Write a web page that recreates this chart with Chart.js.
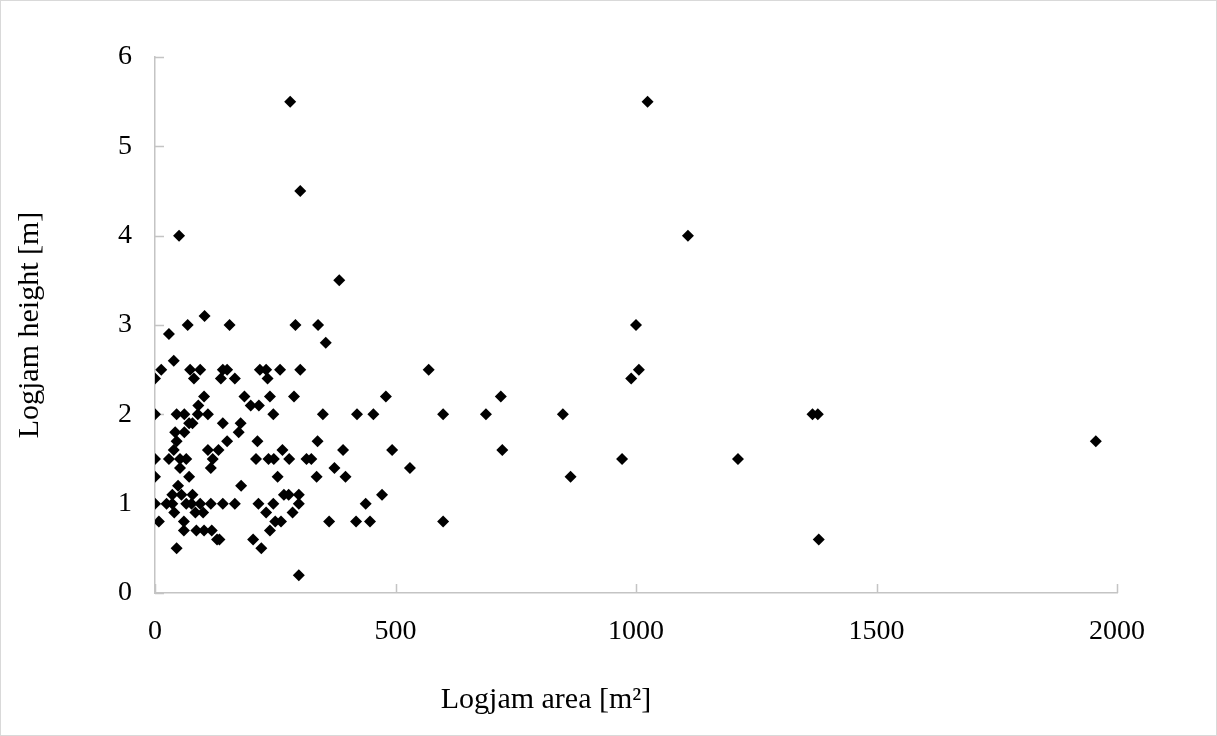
<!DOCTYPE html>
<html>
<head>
<meta charset="utf-8">
<title>Logjam height vs area</title>
<script src="https://cdn.jsdelivr.net/npm/chart.js@4.4.1/dist/chart.umd.min.js"></script>
<style>
  html, body { margin: 0; padding: 0; background: #fff; }
  #wrap { width: 1217px; height: 736px; }
</style>
</head>
<body>
<div id="wrap"><canvas id="logjamChart" width="1217" height="736"></canvas></div>
<script>
// --- 1) Data (area in m2, height in m) ---
const logjamArea = [
  281, 1024, 302, 50, 1108, 383, 103, 29, 68, 155,
  292, 339, 1000, 355, 39, 0, 13, 73, 94, 81,
  141, 150, 137, 166, 218, 231, 234, 260, 302, 569,
  990, 1006, 102, 186, 239, 289, 480, 719, 90, 199,
  216, 0, 45, 61, 89, 110, 246, 349, 420, 454,
  599, 688, 848, 1367, 1378, 71, 78, 141, 178, 42,
  61, 174, 213, 338, 150, 45, 1956, 39, 110, 132,
  265, 391, 493, 722, 0, 29, 52, 65, 120, 210,
  236, 247, 279, 315, 325, 971, 1212, 52, 116, 373,
  530, 0, 71, 255, 336, 396, 864, 48, 179, 36,
  55, 78, 268, 278, 299, 472, 0, 24, 36, 65,
  76, 94, 116, 141, 166, 215, 246, 299, 438, 40,
  84, 100, 231, 286, 8, 60, 250, 262, 362, 418,
  447, 599, 60, 86, 102, 118, 239, 129, 134, 204,
  1380, 45, 221, 299
];
const logjamHeight = [
  5.5, 5.5, 4.5, 4.0, 4.0, 3.5, 3.1, 2.9, 3.0, 3.0,
  3.0, 3.0, 3.0, 2.8, 2.6, 2.4, 2.5, 2.5, 2.5, 2.4,
  2.5, 2.5, 2.4, 2.4, 2.5, 2.5, 2.4, 2.5, 2.5, 2.5,
  2.4, 2.5, 2.2, 2.2, 2.2, 2.2, 2.2, 2.2, 2.1, 2.1,
  2.1, 2.0, 2.0, 2.0, 2.0, 2.0, 2.0, 2.0, 2.0, 2.0,
  2.0, 2.0, 2.0, 2.0, 2.0, 1.9, 1.9, 1.9, 1.9, 1.8,
  1.8, 1.8, 1.7, 1.7, 1.7, 1.7, 1.7, 1.6, 1.6, 1.6,
  1.6, 1.6, 1.6, 1.6, 1.5, 1.5, 1.5, 1.5, 1.5, 1.5,
  1.5, 1.5, 1.5, 1.5, 1.5, 1.5, 1.5, 1.4, 1.4, 1.4,
  1.4, 1.3, 1.3, 1.3, 1.3, 1.3, 1.3, 1.2, 1.2, 1.1,
  1.1, 1.1, 1.1, 1.1, 1.1, 1.1, 1.0, 1.0, 1.0, 1.0,
  1.0, 1.0, 1.0, 1.0, 1.0, 1.0, 1.0, 1.0, 1.0, 0.9,
  0.9, 0.9, 0.9, 0.9, 0.8, 0.8, 0.8, 0.8, 0.8, 0.8,
  0.8, 0.8, 0.7, 0.7, 0.7, 0.7, 0.7, 0.6, 0.6, 0.6,
  0.6, 0.5, 0.5, 0.2
];
const xTitle = 'Logjam area [m²]';
const yTitle = 'Logjam height [m]';

const points = logjamArea.map((a, i) => ({ x: a, y: logjamHeight[i] }));

const axisGray = '#c4c4c4';
const serif = "'Liberation Serif', 'Times New Roman', serif";

// --- 2) Small plugin: inside tick marks, frame, x title ---
const excelLook = {
  id: 'excelLook',
  beforeDatasetsDraw(chart) {
    const { ctx, chartArea, scales } = chart;
    ctx.save();
    ctx.strokeStyle = axisGray;
    ctx.lineWidth = 1.5;
    ctx.beginPath();
    scales.y.ticks.forEach(t => {
      const py = Math.round(scales.y.getPixelForValue(t.value)) + 0.5;
      ctx.moveTo(chartArea.left, py);
      ctx.lineTo(chartArea.left + 9, py);
    });
    scales.x.ticks.forEach(t => {
      const px = Math.round(scales.x.getPixelForValue(t.value)) + 0.5;
      ctx.moveTo(px, chartArea.bottom);
      ctx.lineTo(px, chartArea.bottom - 9);
    });
    ctx.stroke();
    ctx.restore();
  },
  afterDraw(chart) {
    const { ctx, chartArea } = chart;
    ctx.save();
    ctx.strokeStyle = '#d9d9d9';
    ctx.lineWidth = 1;
    ctx.strokeRect(0.5, 0.5, chart.width - 1, chart.height - 1);
    ctx.fillStyle = '#000';
    ctx.font = '30px ' + serif;
    ctx.textAlign = 'center';
    ctx.textBaseline = 'middle';
    ctx.fillText(xTitle, chartArea.left + 391, 700);
    ctx.restore();
  }
};

// --- 3) Scatter chart ---
const ctx = document.getElementById('logjamChart').getContext('2d');
new Chart(ctx, {
  type: 'scatter',
  data: {
    datasets: [{
      label: yTitle,
      data: points,
      pointStyle: 'rectRot',
      pointRadius: 6,
      borderWidth: 0,
      backgroundColor: '#000',
      borderColor: '#000'
    }]
  },
  options: {
    responsive: false,
    animation: false,
    layout: { padding: { top: 57, right: 100, left: 0, bottom: 0 } },
    plugins: {
      legend: { display: false },
      tooltip: { enabled: false }
    },
    scales: {
      x: {
        type: 'linear',
        min: 0,
        max: 2000,
        grid: { display: false, drawTicks: false },
        border: { display: true, color: axisGray, width: 1.5 },
        ticks: {
          stepSize: 500, padding: 22, color: '#000',
          font: { family: serif, size: 28 },
          callback: v => String(v)
        },
        afterFit: s => { s.height = 736 - 593; }
      },
      y: {
        min: 0,
        max: 6,
        grid: { display: false, drawTicks: false },
        border: { display: true, color: axisGray, width: 1.5 },
        ticks: {
          stepSize: 1, padding: 23, color: '#000',
          font: { family: serif, size: 28 },
          callback: v => String(v)
        },
        title: { display: true, text: yTitle, color: '#000', font: { family: serif, size: 30 }, padding: { top: 12 } },
        afterFit: s => { s.width = 155; }
      }
    }
  },
  plugins: [excelLook]
});
</script>
</body>
</html>
